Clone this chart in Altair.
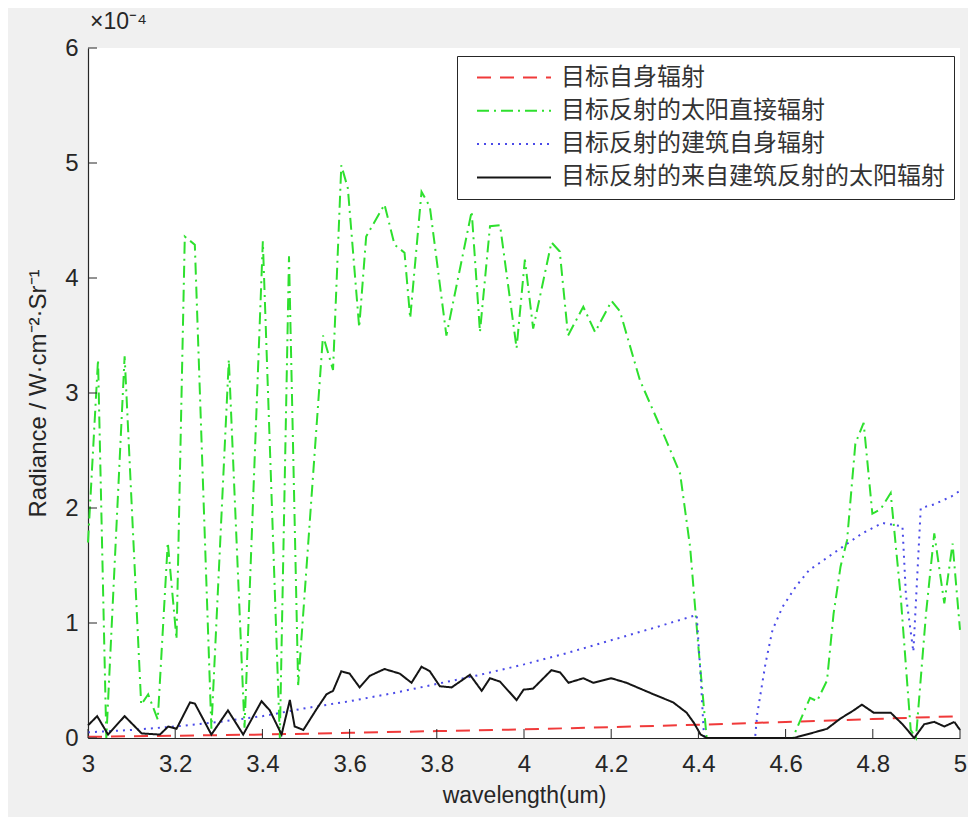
import altair as alt
import pandas as pd

# ---------------- data (radiance in units of 1e-4 W·cm^-2·Sr^-1) ----------------
SERIES = ["目标自身辐射", "目标反射的太阳直接辐射", "目标反射的建筑自身辐射", "目标反射的来自建筑反射的太阳辐射"]

RED_X = [3.0, 3.2, 3.4, 3.6, 3.8, 4.0, 4.2, 4.4, 4.6, 4.8, 5.0]
RED_Y = [0.01, 0.02, 0.03, 0.045, 0.06, 0.075, 0.095, 0.115, 0.14, 0.165, 0.19]

GREEN_X = [3.000, 3.023, 3.042, 3.084, 3.122, 3.138, 3.160, 3.183, 3.203, 3.222, 3.245, 3.283,
           3.323, 3.359, 3.401, 3.440, 3.461, 3.482, 3.539, 3.562, 3.581, 3.596, 3.622, 3.638,
           3.680, 3.703, 3.726, 3.739, 3.765, 3.784, 3.822, 3.880, 3.899, 3.922, 3.945, 3.983,
           4.002, 4.021, 4.063, 4.082, 4.101, 4.136, 4.163, 4.201, 4.220, 4.266, 4.327, 4.358,
           4.381, 4.400, 4.419, 4.618, 4.622, 4.656, 4.672, 4.695, 4.710, 4.726, 4.741, 4.760,
           4.779, 4.799, 4.818, 4.841, 4.864, 4.887, 4.899, 4.922, 4.941, 4.964, 4.983, 5.000]
GREEN_Y = [1.70, 3.29, 0.00, 3.32, 0.29, 0.38, 0.16, 1.70, 0.86, 4.36, 4.29, 0.08,
           3.29, 0.09, 4.32, 0.00, 4.19, 0.46, 3.50, 3.20, 4.98, 4.78, 3.57, 4.36,
           4.64, 4.29, 4.22, 3.65, 4.75, 4.62, 3.50, 4.58, 3.53, 4.45, 4.46, 3.39,
           4.16, 3.56, 4.31, 4.23, 3.50, 3.75, 3.53, 3.80, 3.71, 3.11, 2.58, 2.30,
           1.66, 0.79, 0.00, 0.00, 0.05, 0.35, 0.32, 0.50, 1.08, 1.49, 1.72, 2.56,
           2.74, 1.95, 1.99, 2.13, 1.23, 0.07, 0.00, 1.08, 1.78, 1.17, 1.69, 0.94]

BLUE_X = [3.000, 3.100, 3.200, 3.300, 3.400, 3.500, 3.600, 3.700, 3.800, 3.900, 4.000, 4.100,
          4.200, 4.300, 4.396, 4.405, 4.413, 4.530, 4.535, 4.554, 4.570, 4.593, 4.624, 4.654,
          4.677, 4.730, 4.776, 4.822, 4.868, 4.876, 4.893, 4.910, 4.940, 4.980, 5.000]
BLUE_Y = [0.05, 0.07, 0.10, 0.14, 0.19, 0.26, 0.32, 0.39, 0.47, 0.55, 0.64, 0.74,
          0.85, 0.96, 1.07, 0.55, 0.00, 0.00, 0.21, 0.65, 0.94, 1.14, 1.32, 1.46,
          1.52, 1.66, 1.78, 1.87, 1.84, 1.24, 0.75, 2.00, 2.03, 2.10, 2.15]

BLACK_X = [3.000, 3.021, 3.046, 3.084, 3.123, 3.165, 3.184, 3.203, 3.234, 3.245, 3.283, 3.321,
           3.356, 3.398, 3.417, 3.444, 3.463, 3.474, 3.494, 3.524, 3.547, 3.562, 3.581, 3.600,
           3.623, 3.646, 3.680, 3.715, 3.742, 3.765, 3.784, 3.807, 3.834, 3.876, 3.903, 3.922,
           3.945, 3.983, 3.999, 4.021, 4.063, 4.083, 4.102, 4.136, 4.159, 4.200, 4.235, 4.297,
           4.342, 4.373, 4.390, 4.405, 4.419, 4.618, 4.648, 4.695, 4.726, 4.756, 4.775, 4.802,
           4.841, 4.868, 4.895, 4.918, 4.941, 4.964, 4.987, 5.000]
BLACK_Y = [0.11, 0.19, 0.03, 0.19, 0.04, 0.03, 0.10, 0.08, 0.31, 0.30, 0.03, 0.24,
           0.03, 0.32, 0.24, 0.03, 0.33, 0.10, 0.07, 0.25, 0.38, 0.41, 0.58, 0.56,
           0.44, 0.54, 0.60, 0.56, 0.48, 0.62, 0.58, 0.45, 0.44, 0.55, 0.41, 0.52,
           0.49, 0.33, 0.42, 0.43, 0.59, 0.57, 0.48, 0.52, 0.48, 0.52, 0.48, 0.38,
           0.31, 0.22, 0.13, 0.03, 0.00, 0.00, 0.03, 0.08, 0.17, 0.24, 0.29, 0.22,
           0.22, 0.12, 0.00, 0.12, 0.14, 0.10, 0.14, 0.07]

X_TICKS = [3, 3.2, 3.4, 3.6, 3.8, 4, 4.2, 4.4, 4.6, 4.8, 5]
Y_TICKS = [0, 1, 2, 3, 4, 5, 6]

COLORS = ["#f03a3a", "#2ee02e", "#4a4ae8", "#151515"]
DASHES = [[14, 9], [12, 5, 2, 5], [2, 5], [1, 0]]

# ---------------- build table ----------------
frames = []
for name, xs, ys in zip(SERIES, [RED_X, GREEN_X, BLUE_X, BLACK_X], [RED_Y, GREEN_Y, BLUE_Y, BLACK_Y]):
    frames.append(pd.DataFrame({"wavelength": xs, "radiance": ys, "series": name}))

W, H = 872, 690
FONT = "Liberation Sans"
DARK = "#262626"

x_scale = alt.Scale(domain=[3, 5], nice=False, zero=False)
y_scale = alt.Scale(domain=[0, 6], nice=False)

x_axis = alt.Axis(values=X_TICKS, format="~g", grid=False, ticks=False, labelFontSize=24,
                  labelFont=FONT, labelColor=DARK, labelPadding=14, labelFlush=False,
                  labelOverlap=False, title="wavelength(um)", titleFontSize=23, titleFont=FONT,
                  titleFontWeight="normal", titleColor=DARK, titlePadding=8,
                  domainColor=DARK, domainWidth=1.2)
y_axis = alt.Axis(values=Y_TICKS, format="d", grid=False, ticks=False, labelFontSize=24,
                  labelFont=FONT, labelColor=DARK, labelPadding=10, labelFlush=False,
                  labelOverlap=False, title="Radiance / W·cm⁻²·Sr⁻¹", titleFontSize=24,
                  titleFont=FONT, titleFontWeight="normal", titleColor=DARK, titlePadding=14,
                  domainColor=DARK, domainWidth=1.2)

xenc = alt.X("wavelength:Q", scale=x_scale, axis=x_axis)
yenc = alt.Y("radiance:Q", scale=y_scale, axis=y_axis)

legend = alt.Legend(title=None, orient="none", legendX=369, legendY=8, strokeColor=DARK,
                    fillColor="white", padding=9, symbolType="stroke", symbolSize=5476,
                    symbolStrokeWidth=2, symbolOffset=10, labelOffset=9, labelFontSize=24,
                    labelFont="Noto Sans CJK SC", labelColor="#333333", labelLimit=700,
                    clipHeight=25, rowPadding=8.3)

color_enc = alt.Color("series:N", scale=alt.Scale(domain=SERIES, range=COLORS), legend=legend,
                      sort=SERIES)
dash_enc = alt.StrokeDash("series:N", scale=alt.Scale(domain=SERIES, range=DASHES), legend=legend,
                          sort=SERIES)

line_layers = [
    alt.Chart(f).mark_line(strokeWidth=2).encode(
        x=xenc, y=yenc, color=color_enc, strokeDash=dash_enc)
    for f in frames
]

# inward tick marks (MATLAB style)
xt = pd.DataFrame({"wavelength": X_TICKS})
yt = pd.DataFrame({"radiance": Y_TICKS})
x_ticks = alt.Chart(xt).mark_rule(color=DARK, strokeWidth=1).encode(
    x=xenc, y=alt.value(H), y2=alt.value(H - 9))
y_ticks = alt.Chart(yt).mark_rule(color=DARK, strokeWidth=1).encode(
    y=yenc, x=alt.value(0), x2=alt.value(9))

chart = alt.layer(*line_layers, x_ticks, y_ticks).properties(
    width=W, height=H,
    title=alt.Title("×10⁻⁴", anchor="start", frame="group", fontSize=23, font=FONT,
                    fontWeight="normal", color=DARK, offset=2, dx=2),
    autosize=alt.AutoSizeParams(type="none"),
    padding={"left": 80, "top": 40, "right": 8, "bottom": 79},
    background="#f0f0f0",
).configure_view(stroke=None, fill="white")

chart.save("out.html", embed_options={"renderer": "svg", "actions": False})
